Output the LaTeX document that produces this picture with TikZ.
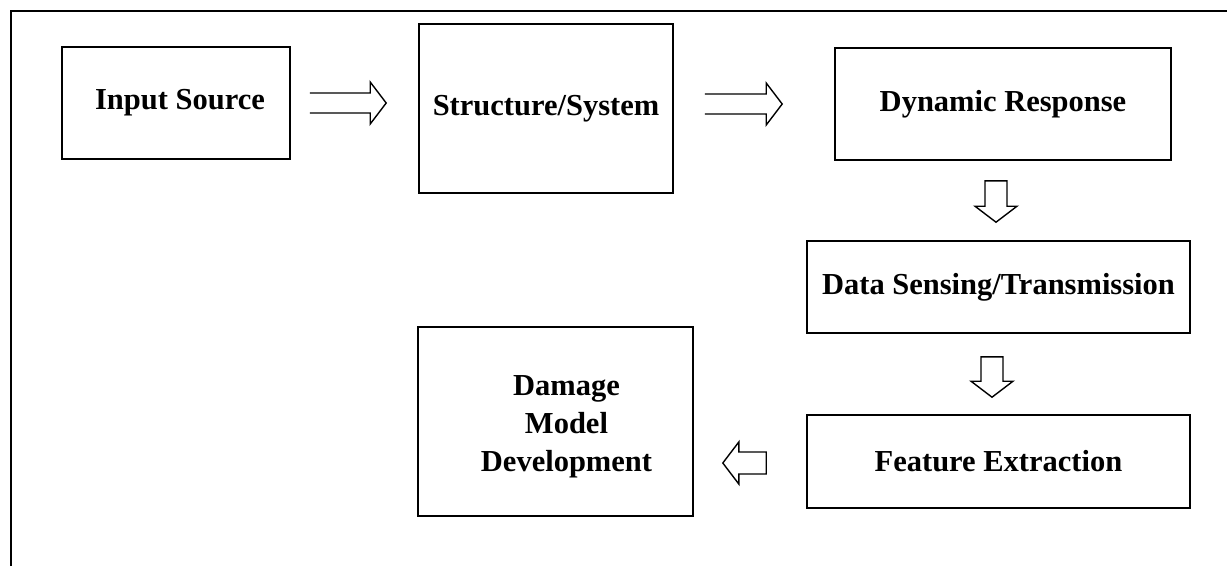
\documentclass[tikz,border=0pt]{standalone}
\usepackage{fontspec}
\setmainfont{Liberation Serif}
\usetikzlibrary{calc}

\begin{document}
\begin{tikzpicture}[x=1pt, y=-1pt, line join=miter,
	every node/.style={font=\bfseries\fontsize{30.5}{38}\selectfont},
	stage/.style={draw, line width=1.6pt, align=center, inner sep=0pt},
	hollow/.style={draw, line width=1.4pt}]
	\useasboundingbox (0,0) rectangle (1227,566);
	% frame, open at right and bottom
	\draw[line width=1.8pt] (11,566) -- (11,11) -- (1227,11);
	\node[stage, minimum width=228pt, minimum height=112pt] (src) at (176,103) {\hspace*{8pt}Input Source};
	\node[stage, minimum width=254pt, minimum height=169pt] (sys) at (546,108.5) {Structure/System};
	\node[stage, minimum width=336pt, minimum height=112pt] (dyn) at (1003,104) {Dynamic Response};
	\node[stage, minimum width=383pt, minimum height=92pt] (dsense) at (998.5,287) {Data Sensing/Transmission};
	\node[stage, minimum width=383pt, minimum height=93pt] (feat) at (998.5,461.5) {Feature Extraction};
	\node[stage, minimum width=275pt, minimum height=189pt,
		label={[align=center, xshift=11pt, yshift=-5pt]center:Damage\\Model\\Development}] (dmg) at (555.5,421.5) {};
	% arrow ends
	\coordinate (a1s) at ($(src.east)+(19,0)$);
	\coordinate (a1e) at ($(sys.west |- src.east)+(-32,0)$);
	\coordinate (a2s) at ($(sys.east |- dyn.west)+(31,0)$);
	\coordinate (a2e) at ($(dyn.west)+(-52,0)$);
	\coordinate (a3s) at ($(dyn.south)+(-7,20)$);
	\coordinate (a3e) at ($(a3s |- dsense.north)+(0,-18)$);
	\coordinate (a4s) at ($(dsense.south)+(-6.5,23)$);
	\coordinate (a4e) at ($(a4s |- feat.north)+(0,-17)$);
	\coordinate (a5s) at ($(feat.west)+(-40,1.5)$);
	\coordinate (a5e) at ($(a5s -| dmg.east)+(29,0)$);
	% open-tailed arrows along the top row
	\foreach \s/\e in {a1s/a1e, a2s/a2e} {
		\coordinate (hb) at ($(\e)!16pt!(\s)$);
		\draw[hollow] ($(\s)!10pt!90:(\e)$) -- ($(hb)!10pt!-90:(\s)$) -- ($(hb)!21pt!-90:(\s)$) -- (\e)
			-- ($(hb)!21pt!90:(\s)$) -- ($(hb)!10pt!90:(\s)$) -- ($(\s)!10pt!-90:(\e)$);
	}
	% closed block arrows
	\foreach \s/\e in {a3s/a3e, a4s/a4e, a5s/a5e} {
		\coordinate (hb) at ($(\e)!16pt!(\s)$);
		\draw[hollow] ($(\s)!11pt!90:(\e)$) -- ($(hb)!11pt!-90:(\s)$) -- ($(hb)!21pt!-90:(\s)$) -- (\e)
			-- ($(hb)!21pt!90:(\s)$) -- ($(hb)!11pt!90:(\s)$) -- ($(\s)!11pt!-90:(\e)$) -- cycle;
	}
\end{tikzpicture}
\end{document}
